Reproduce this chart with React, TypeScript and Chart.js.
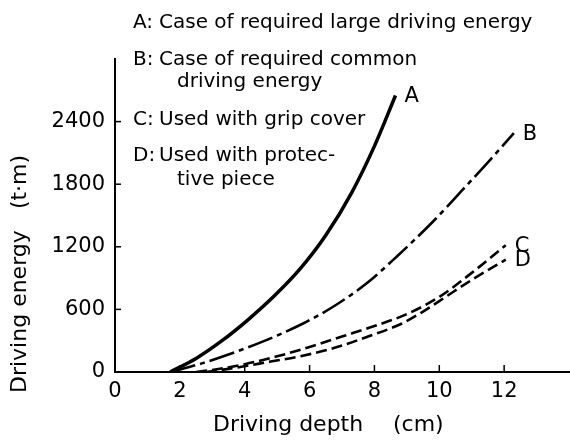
import { useEffect, useRef } from "react";
import { Chart, registerables } from "chart.js";

Chart.register(...registerables);

// ---- data ----
const X_TICKS = [0, 2, 4, 6, 8, 10, 12];
const Y_TICKS = [0, 600, 1200, 1800, 2400];
const X_MAX = 14;
const Y_MAX = 3000;

const depthA = [1.7, 2.5, 3.3, 4.1, 4.9, 5.7, 6.5, 7.3, 8.0, 8.65];
const energyA = [0, 130, 300, 500, 725, 985, 1310, 1720, 2165, 2650];

const depthB = [1.7, 2.7, 4.3, 5.8, 6.8, 7.8, 8.7, 9.8, 10.7, 11.5, 12.3];
const energyB = [0, 85, 260, 465, 640, 860, 1110, 1440, 1740, 2010, 2290];

const depthC = [2.5, 3, 4, 5, 6, 7, 8, 9, 10, 11, 12.05];
const energyC = [0, 20, 75, 150, 240, 340, 440, 555, 720, 950, 1215];

const depthD = [2.8, 3.5, 4.8, 5.7, 6.7, 7.8, 8.85, 9.45, 10.0, 11.14, 12.05];
const energyD = [0, 30, 100, 150, 225, 340, 465, 570, 680, 910, 1077];

const CURVE_LABELS = ["A", "B", "C", "D"];
const LEGEND_LINES = [
  { key: "A:", text: "Case of required large driving energy", indent: 0 },
  { key: "B:", text: "Case of required common", indent: 0 },
  { key: "", text: "driving energy", indent: 1 },
  { key: "C:", text: "Used with grip cover", indent: 0 },
  { key: "D:", text: "Used with protec-", indent: 0 },
  { key: "", text: "tive piece", indent: 1 },
];
const X_TITLE = ["Driving depth", "(cm)"];
const Y_TITLE = ["Driving energy", "(t·m)"];

const FONT = "'DejaVu Sans', sans-serif";

function pts(xs: number[], ys: number[]) {
  return xs.map((x, i) => ({ x, y: ys[i] }));
}

const textPlugin = {
  id: "textPlugin",
  afterDraw(chart: any) {
    const ctx = chart.ctx as CanvasRenderingContext2D;
    const area = chart.chartArea;
    const xs = chart.scales.x;
    const ys = chart.scales.y;
    ctx.save();
    ctx.fillStyle = "#000";
    ctx.strokeStyle = "#000";

    // inner tick marks
    ctx.lineWidth = 1.5;
    Y_TICKS.forEach((v) => {
      if (v === 0) return;
      const py = ys.getPixelForValue(v);
      ctx.beginPath();
      ctx.moveTo(area.left, py);
      ctx.lineTo(area.left + 6, py);
      ctx.stroke();
    });
    X_TICKS.forEach((v) => {
      if (v === 0) return;
      const px = xs.getPixelForValue(v);
      ctx.beginPath();
      ctx.moveTo(px, area.bottom);
      ctx.lineTo(px, area.bottom - 7);
      ctx.stroke();
    });

    // curve end labels
    ctx.font = `21px ${FONT}`;
    ctx.textBaseline = "middle";
    ctx.textAlign = "left";
    chart.data.datasets.forEach((_ds: any, i: number) => {
      const meta = chart.getDatasetMeta(i);
      const last = meta.data[meta.data.length - 1];
      ctx.fillText(CURVE_LABELS[i], last.x + 9, last.y + 1);
    });

    // legend text block
    ctx.font = `20px ${FONT}`;
    const keyX = area.left + 18;
    const textX = area.left + 44;
    const lineYs = [area.top - 36, area.top + 1, area.top + 23, area.top + 61, area.top + 97, area.top + 121];
    LEGEND_LINES.forEach((l, i) => {
      if (l.key) ctx.fillText(l.key, keyX, lineYs[i]);
      ctx.fillText(l.text, textX + l.indent * 18, lineYs[i]);
    });

    // axis titles
    ctx.font = `22px ${FONT}`;
    ctx.textAlign = "left";
    ctx.fillText(X_TITLE[0], area.left + 98, area.bottom + 53);
    ctx.fillText(X_TITLE[1], area.left + 278, area.bottom + 53);

    ctx.translate(20, 0);
    ctx.rotate(-Math.PI / 2);
    ctx.textAlign = "left";
    ctx.fillText(Y_TITLE[0], -(area.bottom + 21), 0);
    ctx.textAlign = "center";
    ctx.fillText(Y_TITLE[1], -182, 0);
    ctx.restore();
  },
};

export default function App() {
  const ref = useRef<HTMLCanvasElement | null>(null);
  useEffect(() => {
    const canvas = ref.current!;
    const common = { borderColor: "#000", pointRadius: 0, fill: false, cubicInterpolationMode: "monotone" as const };
    const chart = new Chart(canvas, {
      type: "line",
      data: {
        datasets: [
          { ...common, data: pts(depthA, energyA), borderWidth: 3.5 },
          { ...common, data: pts(depthB, energyB), borderWidth: 2.6, borderDash: [26, 5, 5, 5] },
          { ...common, data: pts(depthC, energyC), borderWidth: 2.6, borderDash: [11, 5] },
          { ...common, data: pts(depthD, energyD), borderWidth: 2.6, borderDash: [11, 5] },
        ],
      },
      options: {
        responsive: false,
        animation: false,
        devicePixelRatio: 1,
        layout: { padding: { top: 59, right: 1, left: 0, bottom: 0 } },
        plugins: { legend: { display: false }, tooltip: { enabled: false }, title: { display: false } },
        scales: {
          x: {
            type: "linear",
            min: 0,
            max: X_MAX,
            afterBuildTicks: (s: any) => {
              s.ticks = X_TICKS.map((v) => ({ value: v }));
            },
            afterFit: (s: any) => {
              s.height = 69;
            },
            grid: { display: false, drawTicks: false },
            border: { display: true, color: "#000", width: 2 },
            ticks: {
              color: "#000",
              font: { family: FONT, size: 21 },
              padding: 7,
              maxRotation: 0,
              autoSkip: false,
              callback: (v: any) => String(v),
            },
          },
          y: {
            type: "linear",
            min: 0,
            max: Y_MAX,
            afterBuildTicks: (s: any) => {
              s.ticks = Y_TICKS.map((v) => ({ value: v }));
            },
            afterFit: (s: any) => {
              s.width = 115;
            },
            grid: { display: false, drawTicks: false },
            border: { display: true, color: "#000", width: 2 },
            ticks: {
              color: "#000",
              font: { family: FONT, size: 21 },
              padding: 10,
              autoSkip: false,
              callback: (v: any) => String(v),
            },
          },
        },
      },
      plugins: [textPlugin],
    });
    return () => chart.destroy();
  }, []);
  return (
    <div style={{ position: "fixed", left: 0, top: 0, width: 570, height: 441, background: "#fff" }}>
      <canvas ref={ref} width={570} height={441} />
    </div>
  );
}
